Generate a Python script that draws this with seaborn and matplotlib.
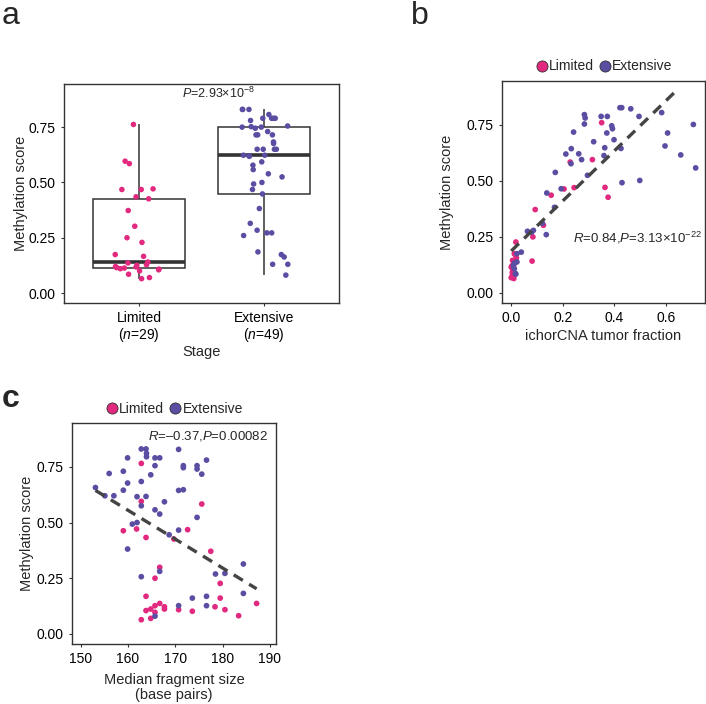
import numpy as np
import pandas as pd
import seaborn as sns
import matplotlib.pyplot as plt
from matplotlib.lines import Line2D

# colours
PINK = "#E0297F"
PURPLE = "#5A4EA3"
DARK = "#333333"

stages = ["Limited", "Extensive"]
stage_ticks = ["Limited\n($\\mathit{n}$=29)", "Extensive\n($\\mathit{n}$=49)"]

#######################################################################
# Panel a : methylation score by stage
#######################################################################
a_limited = [0.065, 0.070, 0.085, 0.100, 0.105, 0.108, 0.110, 0.113, 0.115, 0.118,
             0.120, 0.125, 0.128, 0.136, 0.140, 0.166, 0.174, 0.229, 0.250, 0.302,
             0.373, 0.426, 0.435, 0.468, 0.468, 0.471, 0.585, 0.596, 0.762]
a_extensive = [0.081, 0.130, 0.130, 0.163, 0.174, 0.186, 0.260, 0.272, 0.272, 0.284,
               0.315, 0.382, 0.448, 0.468, 0.493, 0.500, 0.525, 0.539, 0.558, 0.578,
               0.593, 0.618, 0.620, 0.623, 0.623, 0.650, 0.650, 0.650, 0.650, 0.676,
               0.683, 0.715, 0.715, 0.715, 0.730, 0.745, 0.750, 0.750, 0.752, 0.755,
               0.780, 0.790, 0.790, 0.790, 0.790, 0.807, 0.830, 0.830, 0.830]

#######################################################################
# Panel b : ichorCNA tumor fraction vs methylation score
#######################################################################
b_limited_ichor = [0.351, 0.315, 0.229, 0.205, 0.244, 0.364, 0.376, 0.155, 0.093, 0.125,
                   0.084, 0.081, 0.018, 0.012, 0.017, 0.005, 0.000, 0.009, 0.007, 0.005,
                   0.000, 0.009, 0.003, 0.010, 0.006, 0.012, 0.004, 0.010, 0.020]
b_limited_score = [0.759, 0.594, 0.583, 0.463, 0.469, 0.470, 0.426, 0.435, 0.371, 0.301,
                   0.249, 0.141, 0.226, 0.174, 0.167, 0.144, 0.114, 0.107, 0.100, 0.080,
                   0.067, 0.073, 0.120, 0.125, 0.110, 0.135, 0.090, 0.063, 0.155]
b_extensive_ichor = [0.284, 0.287, 0.284, 0.349, 0.373, 0.422, 0.429, 0.464, 0.496, 0.584,
                     0.707, 0.607, 0.597, 0.658, 0.716, 0.499, 0.430, 0.390, 0.393, 0.371,
                     0.399, 0.426, 0.363, 0.360, 0.320, 0.242, 0.233, 0.232, 0.262, 0.273,
                     0.212, 0.171, 0.194, 0.296, 0.138, 0.168, 0.063, 0.079, 0.086, 0.121,
                     0.136, 0.039, 0.022, 0.012, 0.022, 0.012, 0.016, 0.018, 0.008]
b_extensive_score = [0.795, 0.780, 0.753, 0.787, 0.787, 0.826, 0.826, 0.821, 0.787, 0.804,
                     0.751, 0.713, 0.655, 0.615, 0.557, 0.501, 0.491, 0.745, 0.732, 0.713,
                     0.683, 0.644, 0.647, 0.612, 0.674, 0.717, 0.643, 0.576, 0.620, 0.594,
                     0.619, 0.537, 0.464, 0.524, 0.445, 0.381, 0.274, 0.270, 0.278, 0.310,
                     0.259, 0.181, 0.174, 0.132, 0.137, 0.107, 0.085, 0.083, 0.120]

#######################################################################
# Panel c : median fragment size vs methylation score
#######################################################################
c_limited_size = [162.8, 162.8, 159.0, 161.8, 163.8, 175.6, 172.6, 169.7, 177.5, 166.7,
                  165.7, 179.5, 179.5, 163.8, 163.8, 165.7, 164.8, 166.7, 167.7, 167.7,
                  165.7, 162.8, 164.8, 170.7, 173.6, 178.4, 180.5, 183.4, 187.2]
c_limited_score = [0.765, 0.595, 0.463, 0.471, 0.433, 0.583, 0.468, 0.426, 0.371, 0.299,
                   0.250, 0.227, 0.161, 0.169, 0.105, 0.127, 0.112, 0.137, 0.122, 0.112,
                   0.097, 0.064, 0.070, 0.109, 0.102, 0.122, 0.109, 0.082, 0.137]
c_extensive_size = [153.1, 155.1, 156.0, 157.0, 159.0, 159.0, 159.9, 159.9, 159.9, 160.9,
                    161.9, 161.9, 162.8, 162.8, 162.8, 162.8, 163.8, 163.9, 163.9, 163.8,
                    164.8, 165.7, 165.7, 166.7, 165.7, 166.7, 167.7, 166.7, 165.7, 168.7,
                    170.7, 170.7, 171.7, 170.7, 171.7, 171.7, 170.7, 173.6, 174.6, 174.6,
                    174.6, 175.6, 176.6, 176.6, 176.6, 178.5, 180.5, 184.4, 184.4]
c_extensive_score = [0.657, 0.620, 0.720, 0.620, 0.730, 0.645, 0.790, 0.677, 0.381, 0.493,
                     0.500, 0.616, 0.830, 0.684, 0.575, 0.257, 0.830, 0.810, 0.795, 0.617,
                     0.714, 0.755, 0.790, 0.790, 0.557, 0.538, 0.593, 0.281, 0.080, 0.445,
                     0.828, 0.644, 0.647, 0.466, 0.755, 0.746, 0.127, 0.161, 0.755, 0.740,
                     0.523, 0.717, 0.780, 0.127, 0.169, 0.269, 0.272, 0.314, 0.182]

SCORE_LIMIT = 0.9   # upper y scale limit used for the smooth line in b

#######################################################################
# Style
#######################################################################
sns.set_style("ticks")
plt.rcParams["font.family"] = ["Liberation Sans", "DejaVu Sans"]
plt.rcParams["mathtext.fontset"] = "custom"
plt.rcParams["mathtext.rm"] = "Liberation Sans"
plt.rcParams["mathtext.it"] = "Liberation Sans:italic"
plt.rcParams["mathtext.default"] = "regular"
plt.rcParams["axes.edgecolor"] = DARK
plt.rcParams["axes.linewidth"] = 1.0
plt.rcParams["xtick.color"] = DARK
plt.rcParams["ytick.color"] = DARK
plt.rcParams["xtick.labelcolor"] = "black"
plt.rcParams["ytick.labelcolor"] = "black"
plt.rcParams["xtick.major.size"] = 2.5
plt.rcParams["ytick.major.size"] = 2.5
plt.rcParams["xtick.labelsize"] = 10
plt.rcParams["ytick.labelsize"] = 10
plt.rcParams["axes.labelsize"] = 10.5

palette = {"Limited": PINK, "Extensive": PURPLE}

fig = plt.figure(figsize=(7.06, 7.04), dpi=100)
ax_a = fig.add_axes([0.0907, 0.5696, 0.3895, 0.3111])
ax_b = fig.add_axes([0.7110, 0.5700, 0.2875, 0.3149])
ax_c = fig.add_axes([0.1024, 0.0852, 0.2885, 0.3135])

score_ticks = [0.0, 0.25, 0.5, 0.75]
score_ticklabels = ["0.00", "0.25", "0.50", "0.75"]

#######################################################################
# a
#######################################################################
df_a = pd.DataFrame({
    "stage": ["Limited"] * len(a_limited) + ["Extensive"] * len(a_extensive),
    "score": a_limited + a_extensive,
})

sns.boxplot(data=df_a, x="stage", y="score", order=stages, width=0.74,
            showfliers=False, showcaps=False, color="white", linecolor=DARK,
            linewidth=1.1, medianprops=dict(linewidth=2.6), ax=ax_a)
np.random.seed(3)
sns.stripplot(data=df_a, x="stage", y="score", order=stages, hue="stage",
              palette=palette, jitter=0.2, size=4, linewidth=0, legend=False,
              zorder=3, ax=ax_a)
ax_a.set_xlim(-0.6, 1.6)
ax_a.set_ylim(-0.045, 0.945)
ax_a.set_xticks([0, 1])
ax_a.set_xticklabels(stage_ticks, linespacing=1.05)
ax_a.set_yticks(score_ticks)
ax_a.set_yticklabels(score_ticklabels)
ax_a.set_xlabel("Stage", labelpad=1)
ax_a.set_ylabel("Methylation score", labelpad=0.5)
ax_a.text(0.56, 0.958, "$\\mathit{P}$=2.93×10$^{-8}$", transform=ax_a.transAxes,
          ha="center", va="center", fontsize=9)


def scatter_panel(ax, lim_x, lim_y, ext_x, ext_y):
    df = pd.DataFrame({
        "x": lim_x + ext_x,
        "y": lim_y + ext_y,
        "stage": ["Limited"] * len(lim_x) + ["Extensive"] * len(ext_x),
    })
    sns.scatterplot(data=df, x="x", y="y", hue="stage", palette=palette,
                    s=17, linewidth=0, legend=False, ax=ax)
    sns.regplot(data=df, x="x", y="y", scatter=False, ci=None, truncate=True,
                line_kws=dict(color="#444444", lw=2.4, ls=(0, (3.2, 2.2))), ax=ax)
    ax.set_ylim(-0.045, 0.945)
    ax.set_yticks(score_ticks)
    ax.set_yticklabels(score_ticklabels)
    handles = [Line2D([], [], marker="o", ls="", markersize=8,
                      markerfacecolor=palette[s], markeredgecolor=DARK,
                      markeredgewidth=0.6) for s in stages]
    ax.legend(handles, stages, loc="lower center", bbox_to_anchor=(0.5, 1.0),
              ncol=2, frameon=False, handletextpad=0.0, columnspacing=0.3,
              fontsize=10, borderaxespad=0.15, handlelength=1.0)


#######################################################################
# b
#######################################################################
scatter_panel(ax_b, b_limited_ichor, b_limited_score, b_extensive_ichor, b_extensive_score)
# the smooth line is dropped where it leaves the score scale
fit_line = ax_b.lines[-1]
fx, fy = fit_line.get_data()
keep = np.asarray(fy) <= SCORE_LIMIT
fit_line.set_data(np.asarray(fx)[keep], np.asarray(fy)[keep])
ax_b.set_xlim(-0.036, 0.752)
ax_b.set_xticks([0.0, 0.2, 0.4, 0.6])
ax_b.set_xticklabels(["0.0", "0.2", "0.4", "0.6"])
ax_b.set_xlabel("ichorCNA tumor fraction", labelpad=3)
ax_b.set_ylabel("Methylation score", labelpad=9)
ax_b.text(0.985, 0.292, "$\\mathit{R}$=0.84,$\\mathit{P}$=3.13×10$^{-22}$",
          transform=ax_b.transAxes, ha="right", va="center", fontsize=9.5)

#######################################################################
# c
#######################################################################
scatter_panel(ax_c, c_limited_size, c_limited_score, c_extensive_size, c_extensive_score)
ax_c.set_xlim(148.2, 191.3)
ax_c.set_xticks([150, 160, 170, 180, 190])
ax_c.set_xlabel("Median fragment size\n(base pairs)", labelpad=5, linespacing=1.1)
ax_c.set_ylabel("Methylation score", labelpad=2)
ax_c.text(0.959, 0.942, "$\\mathit{R}$=–0.37,$\\mathit{P}$=0.00082",
          transform=ax_c.transAxes, ha="right", va="center", fontsize=9.5)

# panel letters
fig.text(0.002, 0.998, "a", fontsize=23, va="top", ha="left")
fig.text(0.582, 0.998, "b", fontsize=23, va="top", ha="left")
fig.text(0.002, 0.455, "c", fontsize=23, va="top", ha="left", fontweight="bold")

fig.savefig("out.png", dpi=100)
